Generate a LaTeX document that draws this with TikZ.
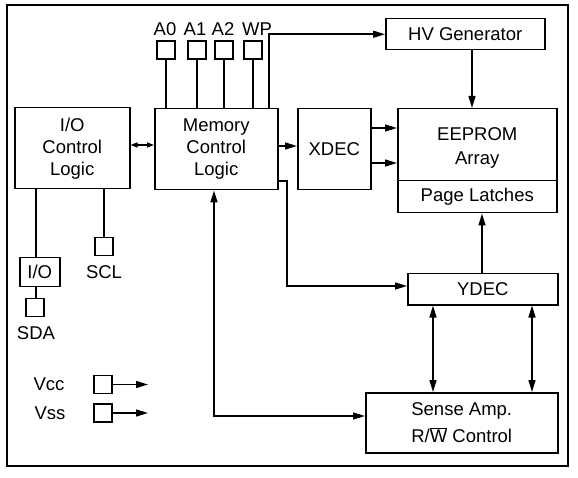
\documentclass[tikz,border=0pt]{standalone}
\usepackage{fontspec}
\setmainfont{Liberation Sans}
\usepackage{tikz}
\usetikzlibrary{arrows.meta, positioning}
\definecolor{lineColor}{RGB}{0, 0, 0}
\definecolor{textColor}{RGB}{0, 0, 0}
\tikzset{
    blk_box/.style={
        draw=lineColor,
        line width=1.5pt,
        inner sep=0pt,
        anchor=north west,
        align=center,
        text=textColor,
        font=\fontsize{18.5}{22}\selectfont
    },
    pin_box/.style={
        draw=lineColor,
        line width=1.5pt,
        inner sep=0pt,
        minimum size=18pt
    },
    pin_label/.style={
        text=textColor,
        inner sep=0pt,
        font=\fontsize{18.5}{22}\selectfont
    },
    sig_line/.style={
        line width=1.5pt,
        draw=lineColor
    },
    sig_edge/.style={
        sig_line,
        -{Triangle[length=12pt, width=7pt]}
    },
    sig_both/.style={
        sig_line,
        {Triangle[length=12pt, width=7pt]}-{Triangle[length=12pt, width=7pt]}
    }
}

\begin{document}
\begin{tikzpicture}[x=1pt, y=-1pt]
        \useasboundingbox (0,0) rectangle (578,478);
        \draw[sig_line] (7,5) rectangle (568,466);

        % main blocks
        \node[blk_box, minimum width=115pt, minimum height=81pt] (ioCtl) at (14,107) {I/O\\Control\\Logic};
        \node[blk_box, minimum width=123pt, minimum height=81pt] (mem) at (154,108) {Memory\\Control\\Logic};
        \node[blk_box, minimum width=73pt, minimum height=81pt] (xdec) at (297,108) {XDEC};
        \node[blk_box, minimum width=159pt, minimum height=31pt] (hv) at (385,18) {HV Generator};
        \node[blk_box, minimum width=159pt, minimum height=72pt] (eeprom) at (397,108) {};
        \node[pin_label, align=center] (eepromTxt) at (eeprom.center) [yshift=-3pt] {EEPROM\\[2pt]Array};
        \node[blk_box, minimum width=159pt, minimum height=32pt] (page) at (397,180) {Page Latches};
        \node[blk_box, minimum width=150pt, minimum height=31pt] (ydec) at (407,273) {YDEC};
        \node[blk_box, minimum width=192pt, minimum height=60pt] (sense) at (365,392) {Sense Amp.\\[5pt]R/$\overline{\mbox{W}}$ Control};
        \node[blk_box, minimum width=40pt, minimum height=29pt] (ioBuf) at (19,257) {I/O};

        % address pins
        \foreach \nm/\x/\lx in {A0/166/165, A1/197/195, A2/224/223, WP/253/257} {
            \node[pin_box] (pin\nm) at (\x,50) {};
            \node[pin_label, anchor=base] (lbl\nm) at (\lx,36) {\nm};
            \draw[sig_line] (pin\nm.south) -- (mem.north -| pin\nm.south);
        }

        \node[pin_box] (pinSCL) at (104,246.5) {};
        \node[pin_label, anchor=base] (lblSCL) at (104,279) {SCL};
        \node[pin_box] (pinSDA) at (35,307.5) {};
        \node[pin_label, anchor=base] (lblSDA) at (36,339) {SDA};
        \node[pin_box] (pinVcc) at (103,384.5) {};
        \node[pin_label] (lblVcc) at (49,384) {Vcc};
        \node[pin_box] (pinVss) at (103,413) {};
        \node[pin_label] (lblVss) at (50,413) {Vss};

        \coordinate (wpTap) at (269,108);
        \coordinate (memTurn) at (287,181);
        \coordinate (senseTurn) at (214,416);
        \coordinate (vccEnd) at (148,384.5);
        \coordinate (vssEnd) at (148,413);

        \draw[sig_edge] (wpTap) |- (hv.west);
        \draw[sig_edge] (hv.south -| 472,0) -- (eeprom.north -| 472,0);
        \draw[sig_line, {Triangle[length=7pt, width=5pt]}-{Triangle[length=7pt, width=5pt]}]
            (ioCtl.east |- 0,145) -- (mem.west |- 0,145);
        \draw[sig_edge] (mem.east |- 0,146) -- (xdec.west |- 0,146);
        \draw[sig_edge] (xdec.east |- 0,128) -- (eeprom.west |- 0,128);
        \draw[sig_edge] (xdec.east |- 0,163) -- (eeprom.west |- 0,163);
        \draw[sig_edge] (mem.east |- memTurn) -- (memTurn) |- (ydec.west |- 0,286);
        \draw[sig_edge] (ydec.north -| 482,0) -- (page.south -| 482,0);
        \draw[sig_both] (ydec.south -| 433,0) -- (sense.north -| 433,0);
        \draw[sig_both] (ydec.south -| 532,0) -- (sense.north -| 532,0);
        \draw[sig_both] (mem.south -| senseTurn) -- (senseTurn) -- (sense.west |- senseTurn);

        \draw[sig_line] (ioCtl.south -| 36,0) -- (ioBuf.north -| 36,0);
        \draw[sig_line] (ioBuf.south -| 36,0) -- (pinSDA.north -| 36,0);
        \draw[sig_line] (ioCtl.south -| pinSCL.north) -- (pinSCL.north);
        \draw[sig_edge] (pinVcc.east) -- (vccEnd);
        \draw[sig_edge] (pinVss.east) -- (vssEnd);
    \end{tikzpicture}
\end{document}
